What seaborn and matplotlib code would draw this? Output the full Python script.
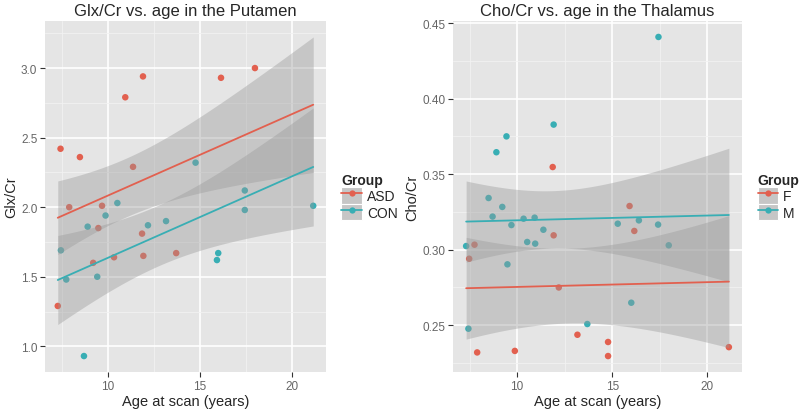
import numpy as np
import pandas as pd
import matplotlib
matplotlib.use("Agg")
import matplotlib.pyplot as plt
import matplotlib.ticker as mticker
import seaborn as sns
from matplotlib.lines import Line2D
from matplotlib.patches import Patch

# Glx/Cr in the putamen
asd_age = [7.28, 7.43, 7.90, 8.48, 9.20, 9.48, 9.68, 10.33, 10.94, 11.36, 11.85, 11.90, 11.92, 13.70, 16.13, 17.97]
asd_glx = [1.29, 2.42, 2.00, 2.36, 1.60, 1.85, 2.01, 1.64, 2.79, 2.29, 1.81, 2.94, 1.65, 1.67, 2.93, 3.00]
con_age = [7.45, 7.74, 8.70, 8.90, 9.42, 9.87, 10.51, 12.17, 13.15, 14.75, 15.91, 15.98, 17.42, 17.42, 21.13]
con_glx = [1.69, 1.48, 0.93, 1.86, 1.50, 1.94, 2.03, 1.87, 1.90, 2.32, 1.62, 1.67, 2.12, 1.98, 2.01]

# Cho/Cr in the thalamus
f_age = [7.76, 7.48, 7.90, 9.88, 11.87, 11.92, 12.19, 13.17, 14.78, 14.78, 15.91, 16.16, 21.13]
f_cho = [0.3033, 0.294, 0.232, 0.233, 0.3547, 0.3095, 0.275, 0.2437, 0.2389, 0.2296, 0.3289, 0.3124, 0.2355]
m_age = [7.32, 7.44, 8.50, 8.71, 8.91, 9.22, 9.44, 9.49, 9.70, 10.34, 10.53, 10.92, 10.95, 11.38, 11.92,
         13.69, 15.29, 16.00, 16.40, 17.41, 17.43, 17.97]
m_cho = [0.3024, 0.2477, 0.3342, 0.3219, 0.3645, 0.3283, 0.375, 0.2903, 0.3163, 0.3205, 0.3051, 0.3212, 0.304,
         0.3132, 0.3828, 0.2508, 0.3172, 0.2649, 0.3194, 0.3166, 0.4408, 0.3029]

RED = "#E2604F"
TEAL = "#38AEB4"
BAND = "#999999"

sns.set_theme(style="darkgrid")
plt.rcParams["font.family"] = ["Liberation Sans", "DejaVu Sans"]

df1 = pd.DataFrame({"age": asd_age + con_age, "val": asd_glx + con_glx,
                    "Group": ["ASD"] * len(asd_age) + ["CON"] * len(con_age)})
df2 = pd.DataFrame({"age": f_age + m_age, "val": f_cho + m_cho,
                    "Group": ["F"] * len(f_age) + ["M"] * len(m_age)})

# two-sided 97.5% t quantiles by degrees of freedom
T975 = {26: 2.056, 27: 2.052, 28: 2.048, 29: 2.045, 30: 2.042, 31: 2.040, 32: 2.037, 33: 2.035}


def fit_common_slope(df, groups, grid):
    # val ~ Group + age  (parallel lines), with 95% confidence bands
    X = np.column_stack([(df["Group"] == g).astype(float) for g in groups] + [df["age"].values])
    y = df["val"].values
    beta, *_ = np.linalg.lstsq(X, y, rcond=None)
    resid = y - X @ beta
    dof = len(y) - X.shape[1]
    s2 = np.sum(resid ** 2) / dof
    cov = s2 * np.linalg.inv(X.T @ X)
    tq = T975.get(dof, 2.04)
    out = {}
    for i, g in enumerate(groups):
        X0 = np.zeros((len(grid), X.shape[1]))
        X0[:, i] = 1.0
        X0[:, -1] = grid
        fit = X0 @ beta
        se = np.sqrt(np.einsum("ij,jk,ik->i", X0, cov, X0))
        out[g] = pd.DataFrame({"age": grid, "fit": fit, "lo": fit - tq * se, "hi": fit + tq * se})
    return out


def panel(ax, df, groups, title, ylabel, yticks, fmt):
    palette = dict(zip(groups, [RED, TEAL]))
    sns.scatterplot(data=df, x="age", y="val", hue="Group", palette=palette, s=22,
                    edgecolor="none", legend=False, ax=ax, zorder=1)
    lo, hi = df["age"].min(), df["age"].max()
    grid = np.linspace(lo, hi, 100)
    preds = fit_common_slope(df, groups, grid)
    for g in groups:
        p = preds[g]
        ax.fill_between(p["age"], p["lo"], p["hi"], color=BAND, alpha=0.4, lw=0, zorder=2)
    for g in groups:
        sns.lineplot(data=preds[g], x="age", y="fit", color=palette[g], lw=1.3, ax=ax, zorder=3)
    pad = (hi - lo) * 0.05
    ax.set_xlim(lo - pad, hi + pad)
    ax.set_facecolor("#E5E5E5")
    ax.set_xticks([10, 15, 20])
    ax.set_yticks(yticks)
    ax.set_xticks([7.5, 12.5, 17.5], minor=True)
    ystep = yticks[1] - yticks[0]
    ax.set_yticks([t - ystep / 2 for t in yticks] + [yticks[-1] + ystep / 2], minor=True)
    ax.yaxis.set_major_formatter(mticker.FormatStrFormatter(fmt))
    ax.autoscale(axis="y")
    ax.grid(which="major", color="white", lw=1.2)
    ax.grid(which="minor", color="#F2F2F2", lw=0.6)
    ax.tick_params(which="major", axis="both", length=3.5, width=0.8, color="#333333",
                   labelsize=8.5, labelcolor="#666666", pad=2, left=True, bottom=True)
    ax.tick_params(which="minor", length=0)
    for sp in ax.spines.values():
        sp.set_visible(False)
    ax.set_title(title, fontsize=12, pad=4)
    ax.set_xlabel("Age at scan (years)", fontsize=10.5, labelpad=2)
    ax.set_ylabel(ylabel, fontsize=10.5, labelpad=2)

    handles = [(Patch(facecolor="#C6C6C6", edgecolor="white", lw=0.8),
                Line2D([], [], color=palette[g], lw=1.3, marker="o", ms=4.5, mec="none"))
               for g in groups]
    leg = ax.legend(handles, groups, title="Group", loc="center left", bbox_to_anchor=(1.02, 0.5),
                    frameon=False, fontsize=10, handlelength=1.5, handleheight=1.5,
                    handletextpad=0.35, labelspacing=0.0, borderpad=0.2)
    leg.get_title().set_fontweight("bold")
    leg.get_title().set_fontsize(10)
    leg._legend_box.align = "left"


fig = plt.figure(figsize=(8, 4.14), dpi=100)
fig.patch.set_facecolor("white")
ax1 = fig.add_axes([45 / 800, 41 / 414, 281 / 800, 351 / 414])
ax2 = fig.add_axes([453 / 800, 41 / 414, 289 / 800, 351 / 414])

panel(ax1, df1, ["ASD", "CON"], "Glx/Cr vs. age in the Putamen", "Glx/Cr",
      [1.0, 1.5, 2.0, 2.5, 3.0], "%.1f")
panel(ax2, df2, ["F", "M"], "Cho/Cr vs. age in the Thalamus", "Cho/Cr",
      [0.25, 0.30, 0.35, 0.40, 0.45], "%.2f")

fig.savefig("out.png", dpi=100)
